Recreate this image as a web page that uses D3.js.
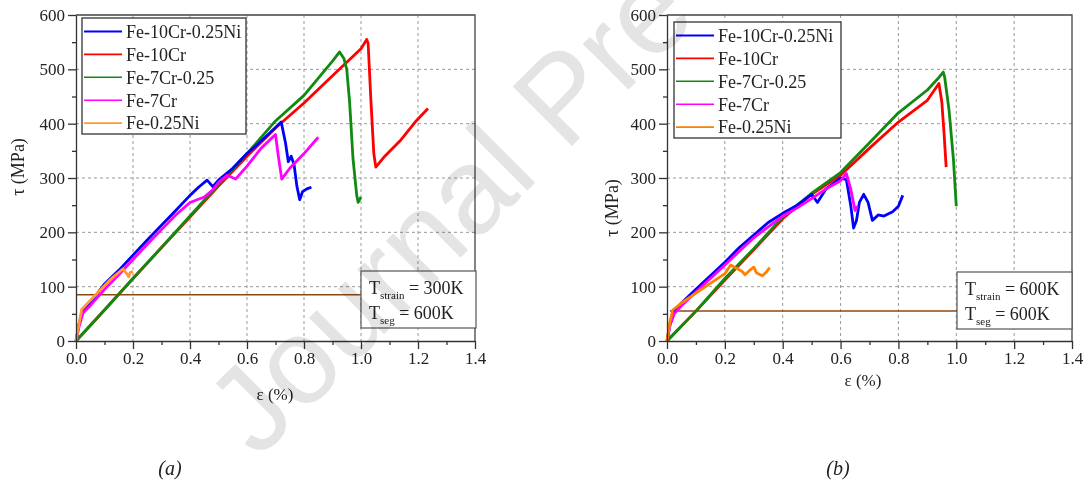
<!DOCTYPE html>
<html>
<head>
<meta charset="utf-8">
<script src="https://cdn.jsdelivr.net/npm/d3@7"></script>
<style>
  body { margin: 0; background: #fff; }
  svg text { font-family: "Liberation Serif", "Times New Roman", serif; fill: #222; }
  .grid line { stroke: #999; stroke-dasharray: 3,3; }
  .axis path, .axis line { stroke: #333; stroke-width: 1.3; }
</style>
</head>
<body>
<svg id="chart" width="1083" height="486"></svg>
<script>
// ---- data ----
var seriesNames = ['Fe-10Cr-0.25Ni', 'Fe-10Cr', 'Fe-7Cr-0.25', 'Fe-7Cr', 'Fe-0.25Ni'];
var xTicks = [0, 0.2, 0.4, 0.6, 0.8, 1.0, 1.2, 1.4];
var yTicks = [0, 100, 200, 300, 400, 500, 600];

// panel (a): T_strain = 300K
var blueA = [[0,0],[0.01,30],[0.025,58],[0.05,70],[0.1,105],[0.15,130],[0.2,158],[0.25,186],[0.3,213],[0.35,240],[0.4,268],[0.43,283],[0.46,296],[0.48,284],[0.5,296],[0.55,318],[0.6,345],[0.65,368],[0.7,393],[0.72,403],[0.735,365],[0.745,330],[0.755,340],[0.765,325],[0.775,285],[0.785,260],[0.795,275],[0.81,280],[0.826,283]];
var redA = [[0,0],[0.1,57],[0.2,115],[0.3,172],[0.4,228],[0.5,285],[0.6,340],[0.7,392],[0.8,438],[0.9,488],[1.0,538],[1.02,555],[1.025,548],[1.035,440],[1.045,345],[1.052,320],[1.08,338],[1.14,370],[1.19,403],[1.235,428]];
var greenA = [[0,0],[0.1,57],[0.2,115],[0.3,172],[0.4,230],[0.5,288],[0.6,345],[0.7,405],[0.8,452],[0.9,515],[0.925,532],[0.94,520],[0.95,500],[0.96,440],[0.972,335],[0.985,268],[0.99,255],[1.0,265]];
var magentaA = [[0,0],[0.01,25],[0.025,52],[0.05,65],[0.1,95],[0.15,122],[0.2,150],[0.25,178],[0.3,205],[0.35,232],[0.4,255],[0.45,265],[0.48,278],[0.5,292],[0.53,305],[0.56,298],[0.6,322],[0.65,355],[0.68,370],[0.7,380],[0.71,340],[0.722,298],[0.75,318],[0.8,345],[0.85,375]];
var orangeA = [[0,0],[0.01,30],[0.02,58],[0.06,80],[0.12,113],[0.165,133],[0.178,124],[0.185,118],[0.19,126],[0.2,128]];
var segLineA = 85;

// panel (b): T_strain = 600K
var blueB = [[0,0],[0.01,30],[0.02,52],[0.05,70],[0.1,95],[0.15,120],[0.2,145],[0.25,172],[0.3,195],[0.35,218],[0.4,235],[0.45,250],[0.5,270],[0.52,255],[0.55,280],[0.6,300],[0.62,297],[0.635,250],[0.645,208],[0.655,222],[0.665,255],[0.68,270],[0.695,255],[0.71,222],[0.73,232],[0.75,230],[0.78,238],[0.8,248],[0.815,268]];
var redB = [[0,0],[0.1,55],[0.2,112],[0.3,168],[0.4,225],[0.5,270],[0.6,305],[0.7,355],[0.8,403],[0.9,443],[0.94,474],[0.95,440],[0.958,380],[0.965,320]];
var greenB = [[0,0],[0.1,55],[0.2,115],[0.3,170],[0.4,228],[0.5,272],[0.6,310],[0.7,365],[0.8,420],[0.9,462],[0.94,485],[0.955,495],[0.96,485],[0.975,425],[0.99,335],[1.0,248]];
var magentaB = [[0,0],[0.01,28],[0.025,50],[0.05,65],[0.1,90],[0.15,115],[0.2,140],[0.25,165],[0.3,190],[0.35,210],[0.4,230],[0.45,245],[0.5,262],[0.55,280],[0.6,295],[0.62,308],[0.635,280],[0.65,240],[0.658,248]];
var orangeB = [[0,0],[0.01,35],[0.02,57],[0.05,70],[0.1,88],[0.15,106],[0.2,124],[0.22,140],[0.24,134],[0.26,128],[0.27,122],[0.29,132],[0.3,136],[0.31,125],[0.33,120],[0.345,128],[0.355,135]];
var segLineB = 55;

var colors = ['#0000ff', '#ff0000', '#108a10', '#ff00ff', '#ff9933'];
var colorsB = ['#0000ff', '#ff0000', '#108a10', '#ff00ff', '#ff8000'];

var svg = d3.select('#chart');
svg.append('rect').attr('width', 1083).attr('height', 486).attr('fill', '#fff');

function drawPanel(cfg)
{
    var x = d3.scaleLinear().domain([0, 1.4]).range([cfg.left, cfg.right]);
    var y = d3.scaleLinear().domain([0, 600]).range([cfg.bottom, cfg.top]);
    var g = svg.append('g');

    // dashed grid
    var grid = g.append('g').attr('class', 'grid');
    grid.selectAll('.gx').data(xTicks.slice(1, -1)).enter().append('line')
        .attr('x1', function(d) { return x(d); }).attr('x2', function(d) { return x(d); })
        .attr('y1', cfg.top).attr('y2', cfg.bottom);
    grid.selectAll('.gy').data(yTicks.slice(1, -1)).enter().append('line')
        .attr('x1', cfg.left).attr('x2', cfg.right)
        .attr('y1', function(d) { return y(d); }).attr('y2', function(d) { return y(d); });

    // frame top / right
    g.append('path').attr('fill', 'none').attr('stroke', '#444').attr('stroke-width', 1.3)
        .attr('d', 'M' + cfg.left + ',' + cfg.top + 'H' + cfg.right + 'V' + cfg.bottom);

    // segregation stress line
    g.append('line')
        .attr('x1', x(cfg.segStart)).attr('x2', x(1.4))
        .attr('y1', y(cfg.seg)).attr('y2', y(cfg.seg))
        .attr('stroke', '#8b4a12').attr('stroke-width', 1.5);

    var line = d3.line().x(function(d) { return x(d[0]); }).y(function(d) { return y(d[1]); });
    var order = [1, 2, 0, 3, 4];
    order.forEach(function(i) {
        g.append('path').datum(cfg.series[i])
            .attr('fill', 'none').attr('stroke', cfg.colors[i])
            .attr('stroke-width', 2.8).attr('stroke-linejoin', 'round')
            .attr('d', line);
    });

    // axes
    var minorX = d3.range(0.1, 1.4, 0.2);
    var minorY = d3.range(50, 600, 100);
    g.append('g').attr('class', 'axis').attr('transform', 'translate(0,' + cfg.bottom + ')')
        .call(d3.axisBottom(x).tickValues(xTicks).tickFormat(d3.format('.1f')).tickSize(8).tickSizeOuter(0))
        .selectAll('text').style('font-size', '17px').style('font-family', '"Liberation Serif", serif');
    g.append('g').attr('class', 'axis').attr('transform', 'translate(0,' + cfg.bottom + ')')
        .call(d3.axisBottom(x).tickValues(minorX).tickFormat('').tickSize(4).tickSizeOuter(0))
        .select('.domain').remove();
    g.append('g').attr('class', 'axis').attr('transform', 'translate(' + cfg.left + ',0)')
        .call(d3.axisLeft(y).tickValues(yTicks).tickSize(8).tickSizeOuter(0))
        .selectAll('text').style('font-size', '17px').style('font-family', '"Liberation Serif", serif');
    g.append('g').attr('class', 'axis').attr('transform', 'translate(' + cfg.left + ',0)')
        .call(d3.axisLeft(y).tickValues(minorY).tickFormat('').tickSize(4).tickSizeOuter(0))
        .select('.domain').remove();

    // axis titles
    g.append('text').attr('transform', 'translate(' + cfg.yLabel[0] + ',' + cfg.yLabel[1] + ') rotate(-90)')
        .attr('text-anchor', 'middle').attr('dy', '0.35em').style('font-size', '18px').text('τ (MPa)');
    g.append('text').attr('x', cfg.xLabel[0]).attr('y', cfg.xLabel[1])
        .attr('text-anchor', 'middle').attr('dy', '0.35em').style('font-size', '17px').text('ε (%)');

    // legend
    var lg = g.append('g').attr('transform', 'translate(' + cfg.legend[0] + ',' + cfg.legend[1] + ')');
    lg.append('rect').attr('width', cfg.legend[2]).attr('height', 116)
        .attr('fill', '#fff').attr('stroke', '#333').attr('stroke-width', 1.3);
    seriesNames.forEach(function(name, i) {
        var yy = 13.5 + i * 22.9;
        lg.append('line').attr('x1', 2).attr('x2', 40).attr('y1', yy).attr('y2', yy)
            .attr('stroke', cfg.colors[i]).attr('stroke-width', i === 0 ? 2.2 : 1.6);
        lg.append('text').attr('x', 44).attr('y', yy).attr('dy', '0.35em')
            .style('font-size', '18px').text(name);
    });

    // temperature box
    var bx = g.append('g').attr('transform', 'translate(' + cfg.box[0] + ',' + cfg.box[1] + ')');
    bx.append('rect').attr('width', 115).attr('height', 57)
        .attr('fill', '#fff').attr('stroke', '#555').attr('stroke-width', 1.2);
    var t1 = bx.append('text').attr('x', 8).attr('y', 23).style('font-size', '18px');
    t1.append('tspan').text('T');
    t1.append('tspan').attr('dy', 5).style('font-size', '11px').text('strain');
    t1.append('tspan').attr('dy', -5).text(' = ' + cfg.tStrain);
    var t2 = bx.append('text').attr('x', 8).attr('y', 48).style('font-size', '18px');
    t2.append('tspan').text('T');
    t2.append('tspan').attr('dy', 5).style('font-size', '11px').text('seg');
    t2.append('tspan').attr('dy', -5).text(' = 600K');

    // caption
    svg.append('text').attr('x', cfg.caption[0]).attr('y', cfg.caption[1])
        .attr('text-anchor', 'middle').style('font-size', '20px').style('font-style', 'italic')
        .text(cfg.captionText);
}

drawPanel({
    left: 76, right: 475, top: 15, bottom: 341,
    series: [blueA, redA, greenA, magentaA, orangeA], colors: colors,
    seg: segLineA, segStart: 0,
    yLabel: [18, 167], xLabel: [275, 394],
    legend: [82, 18, 164], box: [361, 271], tStrain: '300K',
    caption: [170, 475], captionText: '(a)'
});
drawPanel({
    left: 667, right: 1072, top: 15, bottom: 341,
    series: [blueB, redB, greenB, magentaB, orangeB], colors: colorsB,
    seg: segLineB, segStart: 0.01,
    yLabel: [612, 208], xLabel: [863, 380],
    legend: [674, 22, 167], box: [957, 272], tStrain: '600K',
    caption: [838, 475], captionText: '(b)'
});

// watermark
svg.append('text')
    .attr('transform', 'translate(258,460) rotate(-45)')
    .style('font-family', '"Liberation Sans", Arial, sans-serif')
    .style('font-size', '122px').style('fill', '#e4e4e4')
    .style('mix-blend-mode', 'multiply')
    .text('Journal Pre');
</script>
</body>
</html>
